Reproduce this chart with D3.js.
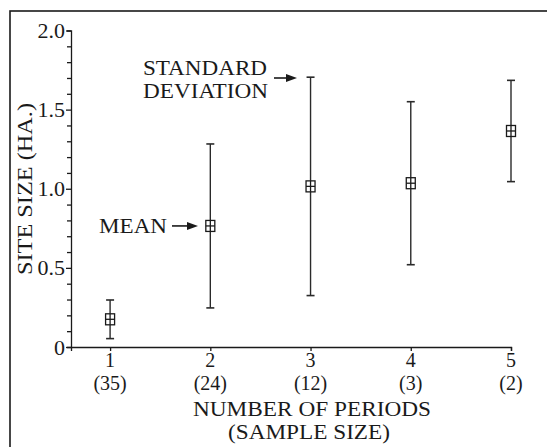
<!DOCTYPE html>
<html>
<head>
<meta charset="utf-8">
<script src="https://cdn.jsdelivr.net/npm/d3@7"></script>
<style>
  html, body { margin: 0; padding: 0; background: #fff; }
  svg { display: block; }
  text { font-family: "Liberation Serif", "DejaVu Serif", serif; fill: #1a1a1a; }
</style>
</head>
<body>
<svg id="chart" width="547" height="447"></svg>
<script>
// Number of periods with sample size, mean site size and its standard deviation
const periods = [1, 2, 3, 4, 5];
const sampleSizes = [35, 24, 12, 3, 2];
const meanSize = [0.175, 0.765, 1.015, 1.035, 1.365];
const sdSize = [0.122, 0.518, 0.69, 0.515, 0.32];
const yTickValues = [0, 0.5, 1.0, 1.5, 2.0];
const yTickLabels = ["0", "0.5", "1.0", "1.5", "2.0"];

const svg = d3.select("#chart");
const ink = "#1a1a1a";

// outer frame (runs off the right and bottom edges)
svg.append("rect")
  .attr("x", 10).attr("y", 11)
  .attr("width", 600).attr("height", 500)
  .attr("fill", "none").attr("stroke", ink).attr("stroke-width", 1.6);

const x = d3.scaleLinear().domain([0.61, 5]).range([71, 511]);
const y = d3.scaleLinear().domain([0, 2]).range([347, 30.5]);

// y axis: minor ticks every 0.1, labels at every 0.5
const minor = d3.range(0, 21).map(i => i / 10);
const yAxis = d3.axisLeft(y)
  .tickValues(minor)
  .tickSizeOuter(0)
  .tickSize(4)
  .tickFormat(() => "");
const gy = svg.append("g").attr("transform", "translate(71,0)").call(yAxis);
gy.selectAll("path, line").attr("stroke", ink).attr("stroke-width", 1.3);
gy.selectAll(".tick line").filter(d => yTickValues.some(v => Math.abs(v - d) < 1e-6))
  .attr("x2", -5);

svg.append("g").selectAll("text")
  .data(yTickValues)
  .join("text")
  .attr("x", 65)
  .attr("y", d => y(d) + 7.5)
  .attr("text-anchor", "end")
  .attr("font-size", 22)
  .text((d, i) => yTickLabels[i]);

// x axis
const xAxis = d3.axisBottom(x)
  .tickValues(periods)
  .tickSizeOuter(0)
  .tickSize(4)
  .tickFormat(() => "");
const gx = svg.append("g").attr("transform", `translate(0,${y(0)})`).call(xAxis);
gx.selectAll("path, line").attr("stroke", ink).attr("stroke-width", 1.3);

// category labels: period number, sample size beneath
const cat = svg.append("g").attr("text-anchor", "middle").attr("font-size", 20);
cat.selectAll("text.num")
  .data(periods)
  .join("text")
  .attr("class", "num")
  .attr("x", d => x(d))
  .attr("y", 367)
  .text(d => d);
cat.selectAll("text.n")
  .data(periods)
  .join("text")
  .attr("class", "n")
  .attr("x", d => x(d))
  .attr("y", 389.5)
  .text((d, i) => `(${sampleSizes[i]})`);

// axis titles
svg.append("text")
  .attr("x", 312).attr("y", 415.5)
  .attr("text-anchor", "middle").attr("font-size", 21)
  .attr("textLength", 238).attr("lengthAdjust", "spacingAndGlyphs")
  .text("NUMBER OF PERIODS");
svg.append("text")
  .attr("x", 309).attr("y", 439)
  .attr("text-anchor", "middle").attr("font-size", 21)
  .attr("textLength", 162).attr("lengthAdjust", "spacingAndGlyphs")
  .text("(SAMPLE SIZE)");
svg.append("text")
  .attr("transform", "translate(31.5,189) rotate(-90)")
  .attr("text-anchor", "middle").attr("font-size", 22)
  .attr("textLength", 172).attr("lengthAdjust", "spacingAndGlyphs")
  .text("SITE SIZE (HA.)");

// error bars: mean ± one standard deviation
const rows = periods.map((p, i) => ({ p, m: meanSize[i], sd: sdSize[i] }));
const bars = svg.append("g").attr("stroke", "#2a2a2a").attr("fill", "none");
bars.selectAll("line.stem").data(rows).join("line")
  .attr("class", "stem")
  .attr("x1", d => x(d.p)).attr("x2", d => x(d.p))
  .attr("y1", d => y(d.m + d.sd)).attr("y2", d => y(d.m - d.sd))
  .attr("stroke-width", 1.4);
bars.selectAll("line.capHi").data(rows).join("line")
  .attr("class", "capHi")
  .attr("x1", d => x(d.p) - 4).attr("x2", d => x(d.p) + 4)
  .attr("y1", d => y(d.m + d.sd)).attr("y2", d => y(d.m + d.sd))
  .attr("stroke-width", 1.6);
bars.selectAll("line.capLo").data(rows).join("line")
  .attr("class", "capLo")
  .attr("x1", d => x(d.p) - 4).attr("x2", d => x(d.p) + 4)
  .attr("y1", d => y(d.m - d.sd)).attr("y2", d => y(d.m - d.sd))
  .attr("stroke-width", 1.6);

// mean markers: square with a cross
const marks = svg.append("g").attr("stroke", ink).attr("stroke-width", 1.3);
marks.selectAll("rect").data(rows).join("rect")
  .attr("x", d => x(d.p) - 4.5).attr("y", d => y(d.m) - 5.5)
  .attr("width", 9).attr("height", 11)
  .attr("fill", "#fff");
marks.selectAll("line.h").data(rows).join("line")
  .attr("class", "h")
  .attr("x1", d => x(d.p) - 4.5).attr("x2", d => x(d.p) + 4.5)
  .attr("y1", d => y(d.m)).attr("y2", d => y(d.m));
marks.selectAll("line.v").data(rows).join("line")
  .attr("class", "v")
  .attr("x1", d => x(d.p)).attr("x2", d => x(d.p))
  .attr("y1", d => y(d.m) - 5.5).attr("y2", d => y(d.m) + 5.5);

// annotations
function arrow(x0, x1, yy) {
  svg.append("line")
    .attr("x1", x0).attr("x2", x1 - 8)
    .attr("y1", yy).attr("y2", yy)
    .attr("stroke", ink).attr("stroke-width", 1.6);
  svg.append("path")
    .attr("d", `M${x1},${yy} L${x1 - 11},${yy - 4} L${x1 - 11},${yy + 4} Z`)
    .attr("fill", ink);
}
svg.append("text")
  .attr("x", 99).attr("y", 233).attr("font-size", 22)
  .attr("textLength", 68).attr("lengthAdjust", "spacingAndGlyphs")
  .text("MEAN");
arrow(172, 198, y(meanSize[1]));

svg.append("text")
  .attr("x", 143).attr("y", 74.5).attr("font-size", 22)
  .attr("textLength", 124).attr("lengthAdjust", "spacingAndGlyphs")
  .text("STANDARD");
svg.append("text")
  .attr("x", 143).attr("y", 98).attr("font-size", 22)
  .attr("textLength", 125).attr("lengthAdjust", "spacingAndGlyphs")
  .text("DEVIATION");
arrow(274, 297, 78);
</script>
</body>
</html>
